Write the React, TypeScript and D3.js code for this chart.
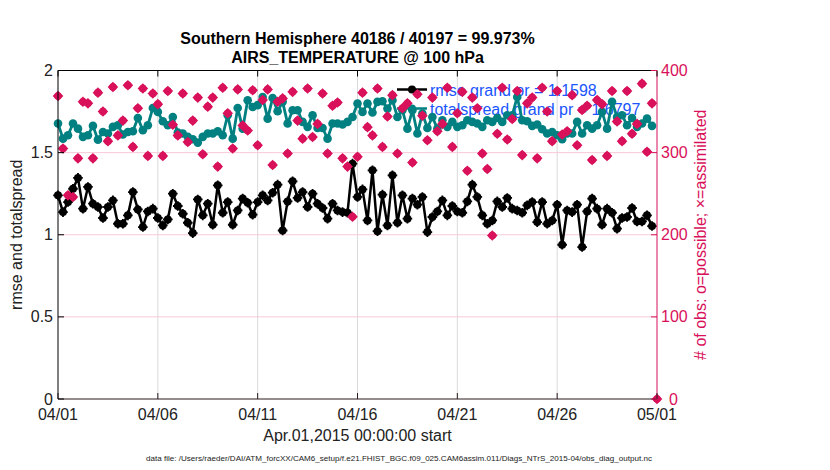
import React from "react";
import * as d3 from "d3";

const rmse = [
  1.240, 1.138, 1.199, 1.280, 1.346, 1.159, 1.291, 1.189, 1.169, 1.102,
  1.169, 1.209, 1.067, 1.067, 1.118, 1.260, 1.154, 1.047, 1.142, 1.159,
  1.102, 1.057, 1.093, 1.250, 1.175, 1.128, 1.073, 1.010, 1.215, 1.118,
  1.189, 1.061, 1.301, 1.134, 1.199, 1.061, 1.148, 1.220, 1.195, 1.122,
  1.199, 1.240, 1.209, 1.256, 1.305, 1.026, 1.203, 1.325, 1.224, 1.260,
  1.169, 1.250, 1.189, 1.163, 1.098, 1.189, 1.148, 1.138, 1.134, 1.433,
  1.230, 1.276, 1.087, 1.392, 1.022, 1.244, 1.057, 1.362, 1.073, 1.240,
  1.098, 1.220, 1.183, 1.230, 1.016, 1.108, 1.142, 1.209, 1.118, 1.175,
  1.142, 1.134, 1.203, 1.305, 1.230, 1.118, 1.067, 1.087, 1.203, 1.169,
  1.224, 1.159, 1.148, 1.134, 1.179, 1.199, 1.077, 1.199, 1.067, 1.087,
  1.183, 0.939, 1.148, 1.138, 1.183, 0.925, 1.142, 1.220, 1.159, 1.061,
  1.159, 1.134, 1.037, 1.102, 1.108, 1.163, 1.081, 1.081, 1.118, 1.053,
];

const totalspread = [
  1.677, 1.585, 1.606, 1.677, 1.646, 1.596, 1.606, 1.663, 1.579, 1.626,
  1.616, 1.657, 1.667, 1.610, 1.626, 1.630, 1.711, 1.636, 1.667, 1.772,
  1.748, 1.691, 1.667, 1.717, 1.622, 1.616, 1.596, 1.581, 1.561, 1.596,
  1.616, 1.616, 1.630, 1.606, 1.728, 1.585, 1.772, 1.646, 1.819, 1.778,
  1.789, 1.839, 1.707, 1.833, 1.752, 1.809, 1.677, 1.758, 1.758, 1.687,
  1.657, 1.728, 1.650, 1.650, 1.585, 1.677, 1.677, 1.671, 1.687, 1.717,
  1.799, 1.748, 1.799, 1.744, 1.809, 1.813, 1.768, 1.819, 1.717, 1.758,
  1.646, 1.758, 1.616, 1.738, 1.650, 1.717, 1.646, 1.697, 1.657, 1.687,
  1.657, 1.667, 1.697, 1.687, 1.677, 1.657, 1.697, 1.687, 1.711, 1.687,
  1.728, 1.728, 1.839, 1.697, 1.691, 1.663, 1.671, 1.642, 1.616, 1.626,
  1.606, 1.581, 1.616, 1.616, 1.687, 1.616, 1.667, 1.646, 1.667, 1.748,
  1.646, 1.809, 1.717, 1.728, 1.667, 1.711, 1.657, 1.677, 1.707, 1.663,
];

const obsCount = [
  369, 305, 248, 246, 293, 362, 360, 293, 373, 350,
  314, 380, 321, 339, 382, 307, 354, 378, 296, 372,
  359, 296, 375, 334, 321, 372, 313, 339, 367, 298,
  356, 367, 283, 379, 348, 305, 377, 333, 327, 376,
  309, 364, 377, 285, 362, 366, 299, 374, 339, 317,
  378, 319, 335, 372, 299, 357, 361, 293, 283, 222,
  295, 373, 331, 321, 378, 307, 344, 370, 299, 354,
  360, 288, 371, 345, 315, 367, 326, 335, 379, 307,
  348, 374, 278, 367, 354, 299, 280, 199, 323, 379,
  316, 341, 375, 297, 360, 367, 293, 379, 350, 314,
  375, 322, 326, 370, 309, 352, 357, 291, 364, 359,
  296, 375, 338, 314, 375, 323, 335, 384, 301, 360,
  0,
];

const leftTicks = [0, 0.5, 1, 1.5, 2];
const leftTickLabels = ["0", "0.5", "1", "1.5", "2"];
const rightTicks = [0, 100, 200, 300, 400];
const xTickDates = ["2015-04-01", "2015-04-06", "2015-04-11", "2015-04-16", "2015-04-21", "2015-04-26", "2015-05-01"];

const titleLines = ["Southern Hemisphere 40186 / 40197 = 99.973%", "AIRS_TEMPERATURE @ 100 hPa"];
const legendLabels = ["rmse grand pr = 1.1598", "totalspread grand pr = 1.6797"];
const xLabel = "Apr.01,2015 00:00:00 start";
const yLabelLeft = "rmse and totalspread";
const yLabelRight = "# of obs: o=possible; \u00d7=assimilated";
const dataFile = "data file: /Users/raeder/DAI/ATM_forcXX/CAM6_setup/f.e21.FHIST_BGC.f09_025.CAM6assim.011/Diags_NTrS_2015-04/obs_diag_output.nc";

const startDate = new Date(Date.UTC(2015, 3, 1));
const STEP_HOURS = 6;

const FONT = "'Liberation Sans', Arial, Helvetica, sans-serif";
const RED = "#d8115a";
const TEAL = "#008080";
const BLUE = "#1a55ff";

export default function App() {
  const W = 830, H = 470;
  const L = 58, R = 657, T = 70.5, B = 399;

  const x = d3.scaleUtc().domain([startDate, new Date(Date.UTC(2015, 4, 1))]).range([L, R]);
  const yL = d3.scaleLinear().domain([0, 2]).range([B, T]);
  const yR = d3.scaleLinear().domain([0, 400]).range([B, T]);
  const t = (i: number) => d3.utcHour.offset(startDate, i * STEP_HOURS);
  const fmt = d3.utcFormat("%m/%d");
  const xTicks = xTickDates.map((s) => new Date(s + "T00:00:00Z"));

  const line = d3.line<number>().x((_, i) => x(t(i))).y((d) => yL(d));
  const diamond = (cx: number, cy: number, r: number) =>
    `M${cx},${cy - r}L${cx + r},${cy}L${cx},${cy + r}L${cx - r},${cy}Z`;

  const redMarker = (cx: number, cy: number, k: number) => (
    <g key={k}>
      <circle cx={cx} cy={cy} r={3.8} fill={RED} />
      <path d={diamond(cx, cy, 5.3)} fill={RED} />
    </g>
  );

  return (
    <svg width={W} height={H} style={{ position: "absolute", left: 0, top: 0, background: "#fff" }} fontFamily={FONT}>
      <rect x={0} y={0} width={W} height={H} fill="#fff" />
      {/* grid */}
      {xTicks.slice(1, -1).map((d, i) => (
        <line key={"gx" + i} x1={x(d)} x2={x(d)} y1={T} y2={B} stroke="#dadada" strokeWidth={1} />
      ))}
      {leftTicks.slice(1, -1).map((v, i) => (
        <line key={"gy" + i} x1={L} x2={R} y1={yL(v)} y2={yL(v)} stroke="#f6c9d9" strokeWidth={1} />
      ))}

      {/* title */}
      {titleLines.map((s, i) => (
        <text key={"t" + i} x={(L + R) / 2} y={43.5 + i * 19.5} textAnchor="middle" fontWeight="bold" fontSize={16} fill="#000">{s}</text>
      ))}

      {/* legend */}
      <line x1={397} x2={427} y1={89.5} y2={89.5} stroke="#000" strokeWidth={2.5} />
      <circle cx={412} cy={89.5} r={4} fill="#000" />
      <text x={430} y={95.5} fontSize={16} fill={BLUE}>{legendLabels[0]}</text>
      <line x1={397} x2={427} y1={108.5} y2={108.5} stroke={TEAL} strokeWidth={2.5} />
      <circle cx={412} cy={108.5} r={4} fill={TEAL} />
      <text x={430} y={114.5} fontSize={16} fill={BLUE}>{legendLabels[1]}</text>

      {/* series */}
      <path d={line(totalspread) || ""} fill="none" stroke={TEAL} strokeWidth={2.8} strokeLinejoin="round" />
      {totalspread.map((v, i) => (
        <circle key={"s" + i} cx={x(t(i))} cy={yL(v)} r={4.3} fill={TEAL} />
      ))}
      <path d={line(rmse) || ""} fill="none" stroke="#000" strokeWidth={2.5} strokeLinejoin="round" />
      {rmse.map((v, i) => (
        <g key={"r" + i}>
          <circle cx={x(t(i))} cy={yL(v)} r={4} fill="#000" />
          <path d={`M${x(t(i)) - 4.8},${yL(v)}H${x(t(i)) + 4.8}M${x(t(i))},${yL(v) - 4.8}V${yL(v) + 4.8}`} stroke="#000" strokeWidth={1.8} />
        </g>
      ))}
      {obsCount.map((v, i) => redMarker(x(t(i)), yR(v), i))}

      {/* axes frame */}
      <line x1={L} x2={R} y1={T} y2={T} stroke="#000" strokeWidth={1} />
      <line x1={L} x2={L} y1={T} y2={B} stroke="#000" strokeWidth={1} />
      <line x1={L} x2={R} y1={B} y2={B} stroke="#2a1a1a" strokeWidth={1} />
      <line x1={R} x2={R} y1={T} y2={B} stroke={RED} strokeWidth={1} />

      {/* x ticks */}
      {xTicks.map((d, i) => (
        <g key={"xt" + i}>
          <line x1={x(d)} x2={x(d)} y1={B} y2={B - 6} stroke="#2a1a1a" />
          <line x1={x(d)} x2={x(d)} y1={T} y2={T + 6} stroke="#000" />
          <text x={x(d)} y={420} textAnchor="middle" fontSize={16} fill="#222">{fmt(d)}</text>
        </g>
      ))}
      {/* left ticks */}
      {leftTicks.map((v, i) => (
        <g key={"yl" + i}>
          <line x1={L} x2={L + 6} y1={yL(v)} y2={yL(v)} stroke="#000" />
          <text x={53} y={yL(v) + 5.5} textAnchor="end" fontSize={16} fill="#222">{leftTickLabels[i]}</text>
        </g>
      ))}
      {/* right ticks */}
      {rightTicks.map((v, i) => (
        <g key={"yr" + i}>
          <line x1={R} x2={R - 6} y1={yR(v)} y2={yR(v)} stroke={RED} />
          <text x={v === 0 ? 669 : 661} y={yR(v) + 5.5} textAnchor="start" fontSize={16} fill={RED}>{String(v)}</text>
        </g>
      ))}

      {/* axis labels */}
      <text x={(L + R) / 2} y={441} textAnchor="middle" fontSize={16} fill="#222">{xLabel}</text>
      <text transform={`translate(22,${(T + B) / 2}) rotate(-90)`} textAnchor="middle" fontSize={16} fill="#222">{yLabelLeft}</text>
      <text transform={`translate(706,${(T + B) / 2}) rotate(-90)`} textAnchor="middle" fontSize={16} fill={RED}>{yLabelRight}</text>
      <text x={399} y={461} textAnchor="middle" fontSize={8} textLength={506} lengthAdjust="spacingAndGlyphs" fill="#222">{dataFile}</text>
    </svg>
  );
}
